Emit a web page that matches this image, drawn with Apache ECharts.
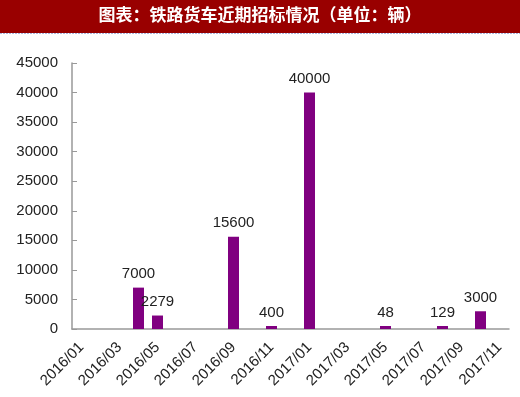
<!DOCTYPE html>
<html>
<head>
<meta charset="utf-8">
<script src="https://cdn.jsdelivr.net/npm/echarts@6/dist/echarts.min.js"></script>
<style>
  html, body { margin: 0; padding: 0; background: #fff; }
  #main { width: 520px; height: 397px; }
</style>
</head>
<body>
<div id="main"></div>
<script>
var chart = echarts.init(document.getElementById("main"), null, { renderer: "canvas" });

// 月份 2016/01 - 2017/11
var months = [
  "2016/01", "2016/02", "2016/03", "2016/04", "2016/05", "2016/06",
  "2016/07", "2016/08", "2016/09", "2016/10", "2016/11", "2016/12",
  "2017/01", "2017/02", "2017/03", "2017/04", "2017/05", "2017/06",
  "2017/07", "2017/08", "2017/09", "2017/10", "2017/11"
];
// 招标数量（辆），没有招标的月份留空
var bids = [
  null, null, null, 7000, 2279, null,
  null, null, 15600, null, 400, null,
  40000, null, null, null, 48, null,
  null, 129, null, 3000, null
];
var yMax = 45000;
var yStep = 5000;

var option = {
  backgroundColor: "#fff",
  animation: false,
  graphic: [
    {
      type: "rect",
      shape: { x: 0, y: 0, width: 520, height: 33 },
      style: { fill: "#990000" }
    },
    {
      type: "line",
      shape: { x1: 0, y1: 33.5, x2: 520, y2: 33.5 },
      style: { stroke: "#a9b6e0", lineWidth: 1, lineDash: [2, 1] }
    },
    {
      type: "text",
      left: "center",
      top: 6,
      style: {
        text: "图表：铁路货车近期招标情况（单位：辆）",
        fill: "#fff",
        font: "bold 17px 'Noto Sans CJK SC'"
      }
    }
  ],
  grid: { left: 72, right: 11, top: 63, bottom: 68 },
  xAxis: {
    type: "category",
    data: months,
    boundaryGap: true,
    axisLine: { lineStyle: { color: "#999", width: 1.5 } },
    axisTick: { inside: true, interval: 1, length: 4, lineStyle: { color: "#999" } },
    axisLabel: {
      interval: 1,
      rotate: 45,
      margin: 16,
      color: "#222",
      fontSize: 15,
      fontFamily: "Liberation Sans"
    }
  },
  yAxis: {
    type: "value",
    min: 0,
    max: yMax,
    interval: yStep,
    splitLine: { show: false },
    axisLine: { show: true, lineStyle: { color: "#999", width: 1.5 } },
    axisTick: { show: true, inside: true, length: 5, lineStyle: { color: "#999" } },
    axisLabel: {
      margin: 14,
      color: "#222",
      fontSize: 15,
      fontFamily: "Liberation Sans",
      formatter: function (v) { return String(v); }
    }
  },
  series: [
    {
      type: "bar",
      data: bids,
      barWidth: 11,
      barMinHeight: 3,
      itemStyle: { color: "#800080" },
      label: {
        show: true,
        position: "top",
        distance: 6,
        color: "#222",
        fontSize: 15,
        fontFamily: "Liberation Sans"
      }
    }
  ]
};
chart.setOption(option);
</script>
</body>
</html>
